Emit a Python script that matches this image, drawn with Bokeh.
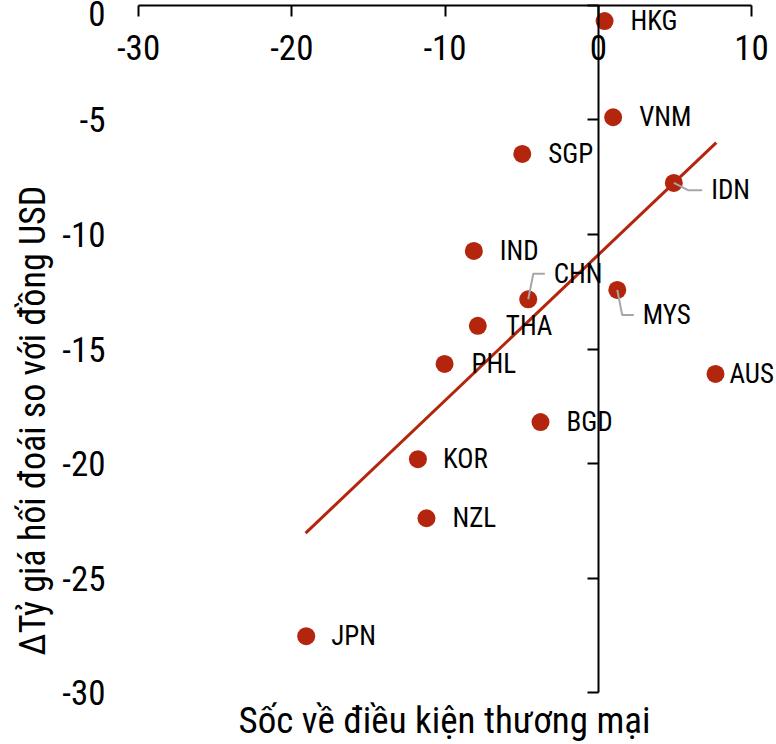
from bokeh.plotting import figure
from bokeh.models import LinearAxis, FixedTicker, ColumnDataSource, Range1d, Title
from bokeh.core.properties import value
from bokeh.embed import file_html
from bokeh.resources import INLINE

# ---- data ----
countries = ["HKG", "VNM", "SGP", "IDN", "IND", "CHN", "MYS",
             "THA", "PHL", "AUS", "BGD", "KOR", "NZL", "JPN"]
tot_shock = [0.41, 0.97, -4.96, 4.93, -8.12, -4.57, 1.24,
             -7.86, -10.03, 7.65, -3.77, -11.77, -11.21, -19.06]
fx_change = [-0.68, -4.88, -6.48, -7.75, -10.72, -12.83, -12.42,
             -13.99, -15.65, -16.09, -18.19, -19.81, -22.39, -27.54]

trend_x = [-19.1, 7.7]
trend_y = [-23.04, -5.99]

x_ticks = [-30, -20, -10, 0, 10]
y_ticks = [0, -5, -10, -15, -20, -25, -30]

x_title = "Sốc về điều kiện thương mại"
y_title = "ΔTỷ giá hối đoái so với đồng USD"

# labels that use a leader line (annotation geometry)
leader_names = ["IDN", "CHN", "MYS"]
leader_xs = [[4.93, 5.89, 6.78], [-4.57, -4.24, -3.49], [1.24, 1.56, 2.32]]
leader_ys = [[-7.75, -8.07, -8.07], [-12.83, -11.71, -11.71], [-12.42, -13.52, -13.52]]

# ---- styling ----
FONT = "Noto Sans Condensed, Roboto Condensed, DejaVu Sans Condensed, Liberation Sans"
RED = "#B3260D"
label_dx_default = 26
label_dx_special = {"AUS": 14, "THA": 28, "PHL": 27, "KOR": 25, "JPN": 25}

lx, ly, ldx = [], [], []
for name, xv, yv in zip(countries, tot_shock, fx_change):
    if name in leader_names:
        i = leader_names.index(name)
        lx.append(leader_xs[i][-1])
        ly.append(leader_ys[i][-1])
        ldx.append(9)
    else:
        lx.append(xv)
        ly.append(yv)
        ldx.append(label_dx_special.get(name, label_dx_default))

pts = ColumnDataSource(dict(x=tot_shock, y=fx_change))
labels = ColumnDataSource(dict(x=lx, y=ly, dx=ldx, text=countries))

def hyphen_labels(ticks):
    return {t: str(t) for t in ticks}

p = figure(width=776, height=744,
           x_range=Range1d(-31.70, 11.63), y_range=Range1d(-30.217, 0.2174),
           x_axis_type=None, y_axis_type=None,
           output_backend="svg", toolbar_location=None,
           min_border_left=112, min_border_right=0,
           min_border_top=0, min_border_bottom=44)
p.outline_line_color = None
p.background_fill_color = "white"
p.border_fill_color = "white"

# left labels (no line, no ticks)
left_lab = LinearAxis(ticker=FixedTicker(ticks=y_ticks),
                      major_label_overrides=hyphen_labels(y_ticks),
                      axis_line_color=None, major_tick_line_color=None,
                      minor_tick_line_color=None, major_tick_out=0, major_tick_in=0,
                      major_label_standoff=7,
                      major_label_text_font=FONT, major_label_text_font_size="35px",
                      major_label_text_color="black")
p.add_layout(left_lab, "left")

# vertical title, placed in the left panel (starts near the bottom of the frame)
p.add_layout(Title(text=y_title, align="left", vertical_align="middle",
                   offset=42, standoff=10,
                   text_font=FONT, text_font_size="36px",
                   text_font_style="normal", text_color="black"), "left")

# y axis line at x = 0
y_line = LinearAxis(fixed_location=0, ticker=FixedTicker(ticks=y_ticks), bounds=(-30, 0),
                    axis_line_width=2, axis_line_color="black",
                    major_tick_line_width=2, major_tick_line_color="black",
                    major_tick_out=11, major_tick_in=0,
                    minor_tick_line_color=None,
                    major_label_text_color=None)
p.add_layout(y_line, "left")

# x axis line at y = 0 with labels
x_line = LinearAxis(fixed_location=0, ticker=FixedTicker(ticks=x_ticks), bounds=(-30, 10),
                    major_label_overrides=hyphen_labels(x_ticks),
                    axis_line_width=2, axis_line_color="black",
                    major_tick_line_width=2, major_tick_line_color="black",
                    major_tick_out=11, major_tick_in=0,
                    minor_tick_line_color=None,
                    major_label_standoff=19,
                    major_label_text_font=FONT, major_label_text_font_size="35px",
                    major_label_text_color="black")
p.add_layout(x_line, "below")

# bottom title
x_lab = LinearAxis(ticker=FixedTicker(ticks=[]),
                   axis_line_color=None, major_tick_line_color=None,
                   minor_tick_line_color=None, major_tick_out=0, major_tick_in=0,
                   axis_label=x_title, axis_label_text_font=FONT,
                   axis_label_text_font_size="37px",
                   axis_label_text_font_style="normal",
                   axis_label_text_color="black",
                   axis_label_standoff=1)
p.add_layout(x_lab, "below")

p.line(trend_x, trend_y, line_color=RED, line_width=3)
p.scatter("x", "y", source=pts, size=18, fill_color=RED, line_color=None)
p.multi_line(leader_xs, leader_ys, line_color="#A6A6A6", line_width=2)
p.text("x", "y", text="text", x_offset="dx", source=labels,
       text_font=value(FONT), text_font_size="27px",
       text_baseline="middle", text_align="left", text_color="black")

open("out.html", "w").write(file_html(p, INLINE))
